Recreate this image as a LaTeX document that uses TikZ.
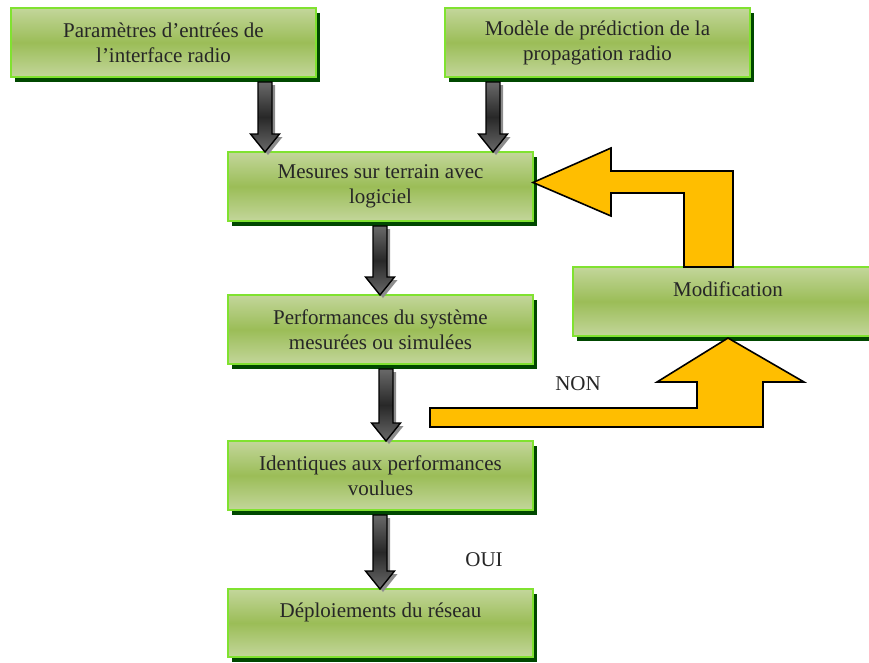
\documentclass[tikz,border=0pt]{standalone}
\usepackage{fontspec}
\setmainfont{Liberation Serif}
\usetikzlibrary{shadows,calc}
\definecolor{lightG}{RGB}{195,214,155}
\definecolor{midG}{RGB}{155,189,87}
\definecolor{borderG}{RGB}{128,226,48}
\definecolor{shadowG}{RGB}{0,72,0}
\definecolor{txt}{RGB}{38,38,38}
\definecolor{orangeA}{RGB}{255,190,0}
\definecolor{arrDark}{RGB}{40,40,40}
\definecolor{arrLight}{RGB}{105,105,105}
\tikzset{
  box/.style={draw=borderG, line width=2.5pt, anchor=north west,
    top color=lightG, bottom color=lightG, middle color=midG,
    drop shadow={shadow xshift=4pt, shadow yshift=-4.5pt, fill=shadowG, opacity=1},
    minimum width=305pt, minimum height=69pt, inner sep=0pt, outer sep=0pt,
    align=center, text=txt, font=\fontsize{21}{25}\selectfont},
  lbl/.style={text=txt, font=\fontsize{21}{25}\selectfont, inner sep=0pt},
  orangearrow/.style={fill=orangeA, draw=black, line width=1.6pt, line join=miter},
  darkbody/.style={draw=black, line width=1.4pt, top color=arrLight, bottom color=arrLight, middle color=arrDark},
  darkshadow/.style={fill=black!45},
}
\newcommand\darkarr[2]{%
  \path[darkshadow] let \p1=(#1), \p2=(#2) in
    (\x1-4pt,\y1-3pt) -- (\x1+10pt,\y1-3pt) -- (\x1+10pt,\y2+15pt) -- (\x1+17.5pt,\y2+15pt)
    -- (\x1+3pt,\y2-3pt) -- (\x1-11.5pt,\y2+15pt) -- (\x1-4pt,\y2+15pt) -- cycle;
  \path[darkbody] let \p1=(#1), \p2=(#2) in
    (\x1-7pt,\y1) -- (\x1+7pt,\y1) -- (\x1+7pt,\y2+18pt) -- (\x1+14.5pt,\y2+18pt)
    -- (\x1,\y2) -- (\x1-14.5pt,\y2+18pt) -- (\x1-7pt,\y2+18pt) -- cycle;
}
\begin{document}
\begin{tikzpicture}[x=1pt,y=-1pt]
\useasboundingbox (0,0) rectangle (869,662);
% boxes
\node[box] (b1) at (11,8) {Paramètres d’entrées de\\l’interface radio};
\node[box] (b2) at (445,8) {Modèle de prédiction de la\\propagation radio};
\node[box] (b3) at (228,152) {Mesures sur terrain avec\\logiciel};
\node[box] (b4) at (228,295) {Performances du système\\mesurées ou simulées};
\node[box, minimum width=310pt] (mod) at (573,267) {Modification\\\mbox{}};
\node[box] (b5) at (228,441) {Identiques aux performances\\voulues};
\node[box, minimum height=68pt] (b6) at (228,589) {Déploiements du réseau\\\mbox{}};
% labels
\node[lbl] (non) at (578,384) {NON};
\node[lbl] (oui) at (484,560) {OUI};
% x positions of dark arrows
\coordinate (xa1) at (265,0);
\coordinate (xa2) at (493,0);
\coordinate (xa3) at (380,0);
\coordinate (xa4) at (386,0);
\coordinate (xa5) at (380,0);
\coordinate (r1) at (733,0);
\coordinate (r2) at (684,0);
\darkarr{$(b1.south -| xa1)+(0,-5pt)$}{b3.north -| xa1}
\darkarr{$(b2.south -| xa2)+(0,-5pt)$}{b3.north -| xa2}
\darkarr{$(b3.south -| xa3)+(0,-5pt)$}{b4.north -| xa3}
\darkarr{$(b4.south -| xa4)+(0,-5pt)$}{b5.north -| xa4}
\darkarr{$(b5.south -| xa5)+(0,-5pt)$}{b6.north -| xa5}
% orange bent arrows
\draw[orangearrow] ([yshift=4pt]b3.east) -- (611,148) -- (611,171) -- (733,171) -- (mod.north -| r1)
  -- (mod.north -| r2) -- (684,193) -- (611,193) -- (611,216) -- cycle;
\draw[orangearrow] (430,408) -- (697,408) -- (697,382) -- (657,382) -- ([yshift=-2pt]mod.south)
  -- (804,382) -- (763,382) -- (763,427) -- (430,427) -- cycle;
\end{tikzpicture}
\end{document}
